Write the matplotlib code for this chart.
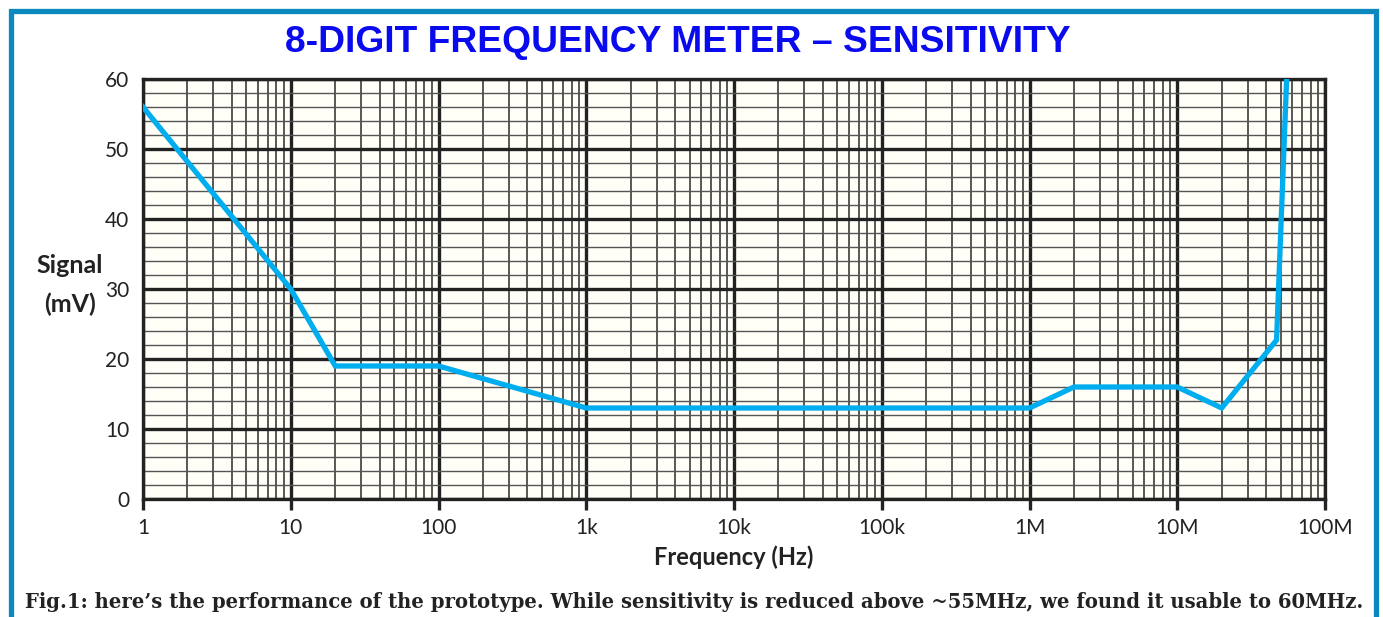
import matplotlib
matplotlib.use("Agg")
import matplotlib.pyplot as plt
from matplotlib.patches import Rectangle
from matplotlib.ticker import FixedLocator, LogLocator, MultipleLocator, NullFormatter

# sensitivity curve
freq_hz = [1, 10, 20, 100, 1e3, 1e6, 2e6, 1e7, 2e7, 4.7e7, 5.5e7]
signal_mv = [56, 30, 19, 19, 13, 13, 16, 16, 13, 22.7, 60]

x_ticks = [1, 10, 100, 1e3, 1e4, 1e5, 1e6, 1e7, 1e8]
x_labels = ["1", "10", "100", "1k", "10k", "100k", "1M", "10M", "100M"]
y_ticks = [0, 10, 20, 30, 40, 50, 60]

TITLE = "8-DIGIT FREQUENCY METER – SENSITIVITY"
CAPTION = ("Fig.1: here’s the performance of the prototype. While sensitivity is "
           "reduced above ~55MHz, we found it usable to 60MHz.")

LIGHT = ["Lato", "DejaVu Sans"]
W, H = 1383, 617

fig = plt.figure(figsize=(W / 100, H / 100), dpi=100)
ax = fig.add_axes([143 / W, 1 - 499 / H, (1325 - 143) / W, (499 - 79) / H])
ax.set_facecolor("#fffef7")

ax.plot(freq_hz, signal_mv, color="#00aeef", linewidth=3.8,
        solid_joinstyle="miter", zorder=5)

ax.set_xscale("log")
ax.set_xlim(1, 1e8)
ax.set_ylim(0, 60)
ax.xaxis.set_major_locator(FixedLocator(x_ticks))
ax.xaxis.set_minor_locator(LogLocator(base=10, subs=range(2, 10), numticks=100))
ax.xaxis.set_minor_formatter(NullFormatter())
ax.set_xticklabels(x_labels)
ax.yaxis.set_major_locator(FixedLocator(y_ticks))
ax.yaxis.set_minor_locator(MultipleLocator(2))

ax.grid(which="major", axis="both", color="#222222", linewidth=2.4)
ax.grid(which="minor", axis="x", color="#2a2a2a", linewidth=1.1)
ax.grid(which="minor", axis="y", color="#555555", linewidth=1.0)
ax.set_axisbelow(True)

for s in ax.spines.values():
    s.set_linewidth(2.4)
    s.set_color("#222222")

ax.tick_params(axis="x", which="major", length=8, width=2.4, color="#222222",
               pad=6, labelsize=15, labelcolor="#222222")
ax.tick_params(axis="x", which="minor", length=0)
ax.tick_params(axis="y", which="both", length=0, pad=10, labelsize=15,
               labelcolor="#222222")
for lab in ax.get_xticklabels() + ax.get_yticklabels():
    lab.set_family(LIGHT)

ax.set_xlabel("Frequency (Hz)", fontsize=17, fontweight="bold",
              family=LIGHT, color="#222222", labelpad=5)
fig.text(70 / W, 1 - 285 / H, "Signal\n(mV)", ha="center", va="center",
         fontsize=18, fontweight="bold", family=LIGHT, color="#222222",
         linespacing=1.75)

fig.text(678 / W, 1 - 43 / H, TITLE, ha="center", va="center", fontsize=26.8,
         fontweight="bold", family=["Liberation Sans", "DejaVu Sans"],
         color="#0a0aee")
fig.text(694 / W, 1 - 602 / H, CAPTION, ha="center", va="center",
         fontsize=14.1, fontweight="bold",
         family=["DejaVu Serif"], color="#222222")

# blue frame around the figure
fig.patches.append(Rectangle((10.5 / W, -0.2), (1375.5 - 10.5) / W,
                             1 - 11 / H + 0.2, transform=fig.transFigure,
                             fill=False, edgecolor="#0b89bf", linewidth=3.8))

fig.savefig("out.png", dpi=100, facecolor="white")
